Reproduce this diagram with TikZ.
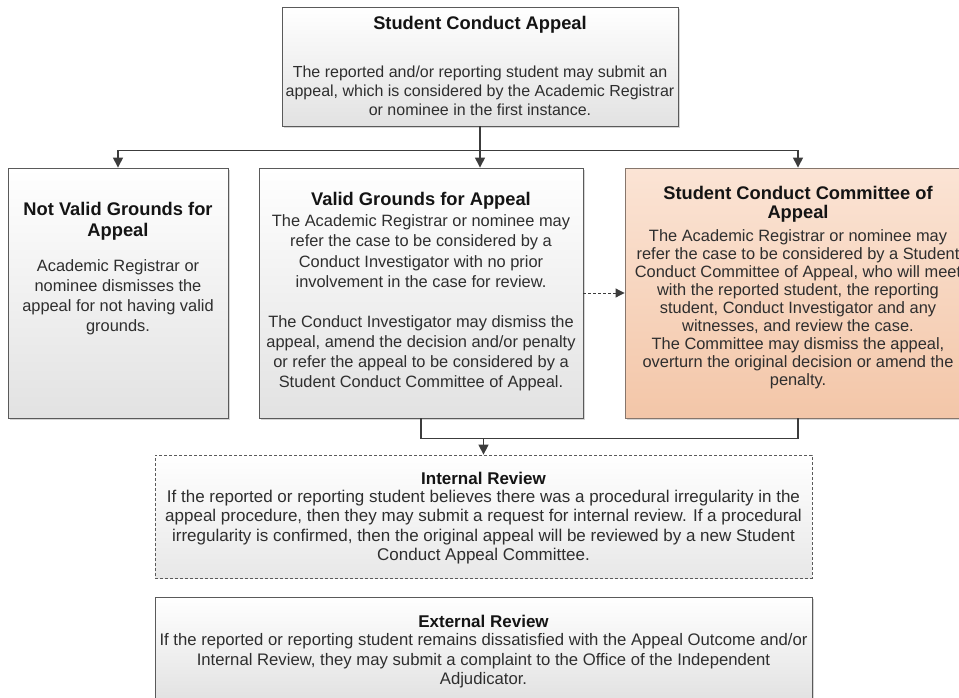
\documentclass[tikz,border=0pt]{standalone}
\usepackage{fontspec}
\setmainfont{Liberation Sans}
\usetikzlibrary{arrows.meta,shadows}
\definecolor{boxline}{HTML}{5A5A5A}
\definecolor{boxbot}{HTML}{E2E2E2}
\definecolor{peachtop}{HTML}{FBE4D5}
\definecolor{peachbot}{HTML}{F3C6A8}
\definecolor{peachline}{HTML}{86766C}
\definecolor{conncol}{HTML}{3C3C3C}
\definecolor{txt}{HTML}{2E2E2E}
\tikzset{
  box/.style={rectangle, draw=boxline, line width=0.9pt, inner sep=0pt,
    top color=white, bottom color=boxbot,
    drop shadow={shadow xshift=1.5pt, shadow yshift=-2pt, fill=black!35, opacity=0.45}},
  peachbox/.style={box, draw=peachline, top color=peachtop, bottom color=peachbot},
  dashbox/.style={rectangle, draw=boxline, line width=0.8pt, inner sep=0pt,
    dash pattern=on 3pt off 2pt, top color=white, bottom color=boxbot!80},
  ttl/.style={inner sep=0pt, align=center, text=black!92,
    font=\bfseries\fontsize{18.3}{21}\selectfont},
  bdy/.style={inner sep=0pt, align=center, text=txt,
    font=\fontsize{16.4}{20.1}\selectfont},
  rttl/.style={inner sep=0pt, align=center, text=black!92,
    font=\bfseries\fontsize{17}{19}\selectfont},
  rbdy/.style={inner sep=0pt, align=center, text=txt,
    font=\fontsize{17}{19.5}\selectfont},
  conn/.style={draw=conncol, line width=1.4pt},
  arr/.style={conn, -{Triangle[length=10pt,width=10pt]}},
  darr/.style={draw=conncol, line width=1pt, dash pattern=on 3pt off 2pt,
    -{Triangle[length=9pt,width=9pt]}},
}
\begin{document}
\begin{tikzpicture}[x=1pt,y=-1pt]
\useasboundingbox (0,0) rectangle (959,697);
\fill[white] (0,0) rectangle (959,697);
\clip (0,0) rectangle (959,697);

% boxes
\node[box, minimum width=396pt, minimum height=119pt] (top) at (480,66.5) {};
\node[box, minimum width=220pt, minimum height=250pt] (nv) at (118,293) {};
\node[box, minimum width=324pt, minimum height=250pt] (vg) at (421,293) {};
\node[peachbox, minimum width=346pt, minimum height=250pt] (sc) at (798,293) {};
\node[dashbox, minimum width=657pt, minimum height=123pt] (ir) at (483.5,516.5) {};
\node[box, minimum width=657pt, minimum height=103pt] (er) at (483.5,648.5) {};

% texts
\node[ttl] (toptitle) at (480,25) {Student Conduct Appeal};
\node[bdy, font=\fontsize{16}{19}\selectfont] (topbody) at (480,91) {The reported and/or reporting student may submit an\\appeal, which is considered by the Academic Registrar\\or nominee in the first instance.};

\node[ttl] (nvtitle) at (118,221) {Not Valid Grounds for\\Appeal};
\node[bdy] (nvbody) at (118,297) {Academic Registrar or\\nominee dismisses the\\appeal for not having valid\\grounds.};

\node[ttl] (vgtitle) at (421,201) {Valid Grounds for Appeal};
\node[bdy] (vgbody) at (421,303) {The Academic Registrar or nominee may\\refer the case to be considered by a\\Conduct Investigator with no prior\\involvement in the case for review.\\[20.1pt]The Conduct Investigator may dismiss the\\appeal, amend the decision and/or penalty\\or refer the appeal to be considered by a\\Student Conduct Committee of Appeal.};

\node[ttl, font=\bfseries\fontsize{18.3}{19}\selectfont] (sctitle) at (798,204.5) {Student Conduct Committee of\\Appeal};
\node[bdy, font=\fontsize{16.4}{18}\selectfont] (scbody) at (798,309) {The Academic Registrar or nominee may\\refer the case to be considered by a Student\\Conduct Committee of Appeal, who will meet\\with the reported student, the reporting\\student, Conduct Investigator and any\\witnesses, and review the case.\\The Committee may dismiss the appeal,\\overturn the original decision or amend the\\penalty.};

\node[rttl] (irtitle) at (483.5,478) {Internal Review};
\node[rbdy] (irbody) at (483.5,527) {If the reported or reporting student believes there was a procedural irregularity in the\\appeal procedure, then they may submit a request for internal review. If a procedural\\irregularity is confirmed, then the original appeal will be reviewed by a new Student\\Conduct Appeal Committee.};

\node[rttl] (ertitle) at (483.5,621) {External Review};
\node[rbdy, font=\fontsize{16.7}{19.5}\selectfont] (erbody) at (483.5,661) {If the reported or reporting student remains dissatisfied with the Appeal Outcome and/or\\Internal Review, they may submit a complaint to the Office of the Independent\\Adjudicator.};

% connectors
\draw[conn] (top.south) -- ++(0,24) coordinate (j1);
\draw[arr] (j1) -| (nv.north);
\draw[arr] (j1) -| (sc.north);
\draw[arr] (j1) -- (j1 |- vg.north);
\draw[darr] (vg.east) -- (sc.west);
\draw[conn] (vg.south) -- ++(0,20) coordinate (j2) -| (sc.south);
\draw[arr] (j2 -| ir.north) -- (ir.north);
\end{tikzpicture}
\end{document}
